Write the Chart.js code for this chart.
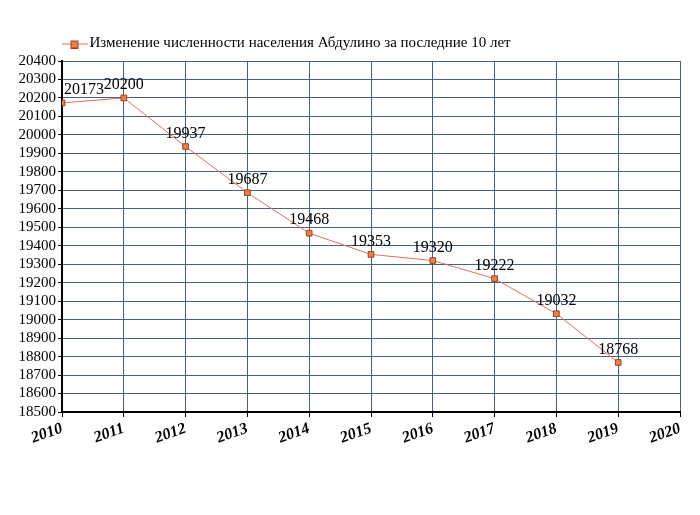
<!DOCTYPE html>
<html>
<head>
<meta charset="utf-8">
<script src="https://cdn.jsdelivr.net/npm/chart.js@4/dist/chart.umd.min.js"></script>
<style>
  html, body { margin: 0; padding: 0; background: #fff; }
  #wrap { width: 700px; height: 515px; }
</style>
</head>
<body>
<div id="wrap"><canvas id="c" width="700" height="515"></canvas></div>
<script>
// data
const years  = [2010, 2011, 2012, 2013, 2014, 2015, 2016, 2017, 2018, 2019];
const people = [20173, 20200, 19937, 19687, 19468, 19353, 19320, 19222, 19032, 18768];
const seriesName = 'Изменение численности населения Абдулино за последние 10 лет';
const yMin = 18500, yMax = 20400, yStep = 100;
const xMin = 2010, xMax = 2020;

const lineColor = '#e0705e';
const markFill  = '#e8804a';
const markEdge  = '#a0401e';
const gridColor = '#46627f';
const legendPad = 10;

// legend symbol: line with a square in the middle
const sym = document.createElement('canvas');
sym.width = 26; sym.height = 10;
(function () {
  const g = sym.getContext('2d');
  g.strokeStyle = lineColor; g.lineWidth = 1;
  g.beginPath(); g.moveTo(0, 5.5); g.lineTo(26, 5.5); g.stroke();
  g.fillStyle = markFill; g.fillRect(9.5, 2.5, 7, 7);
  g.strokeStyle = markEdge; g.strokeRect(9.5, 2.5, 7, 7);
})();

// value labels above each point
const valueLabels = {
  id: 'valueLabels',
  afterLayout(chart) {
    // legend starts at the plot's left edge, like the original
    const lg = chart.legend;
    const w = lg.right - lg.left;
    lg.left = chart.chartArea.left - legendPad + 5;
    lg.right = lg.left + w;
  },
  afterDatasetsDraw(chart) {
    const ctx = chart.ctx;
    const area = chart.chartArea;
    ctx.save();
    ctx.font = '16px "Liberation Serif", serif';
    ctx.fillStyle = '#000';
    ctx.textAlign = 'center';
    ctx.textBaseline = 'bottom';
    chart.getDatasetMeta(0).data.forEach((pt, i) => {
      const txt = String(people[i]);
      const w = ctx.measureText(txt).width;
      let x = pt.x;
      if (x - w / 2 < area.left + 2) x = area.left + 2 + w / 2;
      ctx.fillText(txt, x, pt.y - 5);
    });
    ctx.restore();
  }
};

new Chart(document.getElementById('c'), {
  type: 'line',
  data: {
    datasets: [{
      label: seriesName,
      data: years.map((y, i) => ({ x: y, y: people[i] })),
      borderColor: lineColor,
      borderWidth: 1,
      pointStyle: 'rect',
      pointRadius: 4,
      pointBackgroundColor: markFill,
      pointBorderColor: markEdge,
      pointBorderWidth: 1,
      tension: 0,
    }]
  },
  options: {
    responsive: false,
    animation: false,
    layout: { padding: { top: 26, right: 20, bottom: 0, left: 0 } },
    plugins: {
      tooltip: { enabled: false },
      legend: {
        position: 'top',
        align: 'start',
        labels: {
          font: { family: '"Liberation Serif", serif', size: 15 },
          color: '#000',
          usePointStyle: true,
          boxWidth: 26,
          boxHeight: 10,
          padding: legendPad,
          generateLabels: () => [{
            text: seriesName,
            pointStyle: sym,
            fillStyle: markFill,
            strokeStyle: lineColor,
            lineWidth: 0,
            hidden: false,
            datasetIndex: 0,
          }]
        }
      }
    },
    scales: {
      x: {
        type: 'linear',
        min: xMin, max: xMax,
        ticks: {
          stepSize: 1,
          autoSkip: false,
          maxRotation: 20, minRotation: 20,
          color: '#000',
          font: { family: '"Liberation Serif", serif', size: 16, style: 'italic', weight: 'bold' },
          callback: v => String(v),
          padding: 2,
        },
        grid: { color: gridColor, lineWidth: 1, tickLength: 5, tickColor: '#000' },
        border: { color: '#000', width: 2 },
        afterFit: s => { s.height = 103; }
      },
      y: {
        min: yMin, max: yMax,
        ticks: {
          stepSize: yStep,
          autoSkip: false,
          color: '#000',
          font: { family: '"Liberation Serif", serif', size: 15 },
          callback: v => String(v),
          padding: 2,
        },
        grid: { color: gridColor, lineWidth: 1, tickLength: 4, tickColor: '#000' },
        border: { color: '#000', width: 2 },
        afterFit: s => { s.width = 62; }
      }
    }
  },
  plugins: [valueLabels]
});
</script>
</body>
</html>
